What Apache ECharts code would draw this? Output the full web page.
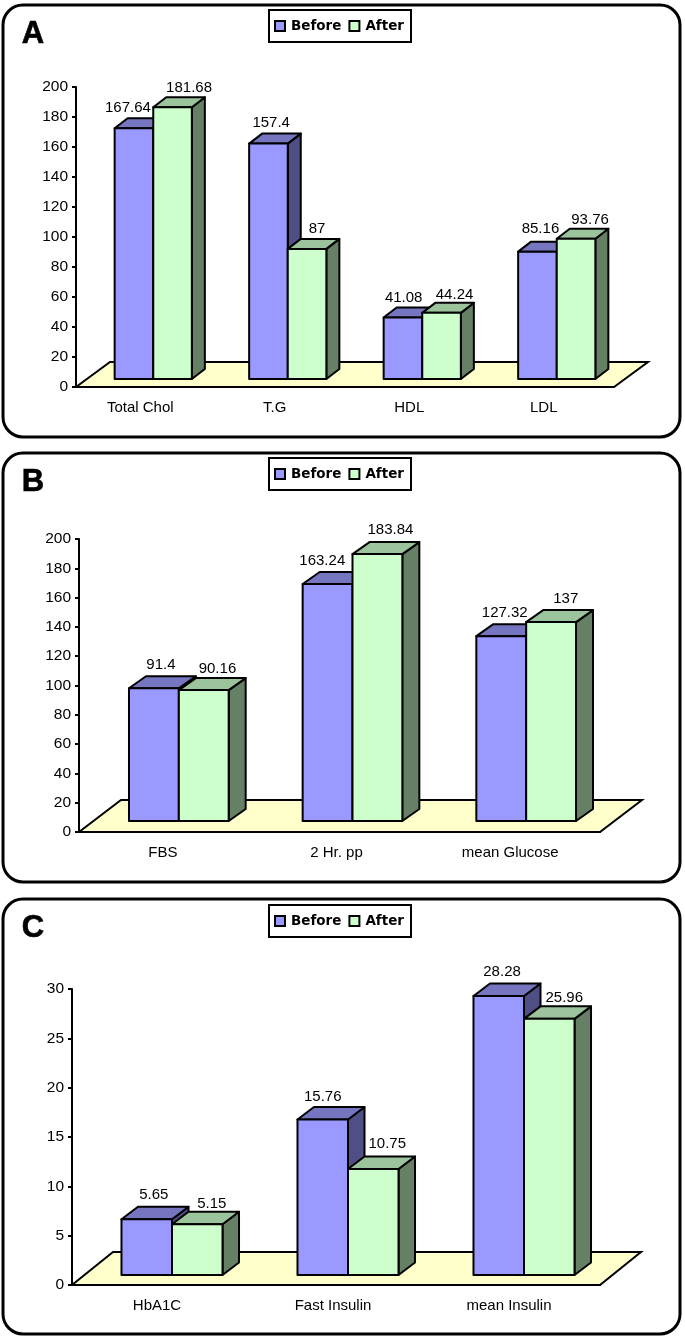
<!DOCTYPE html>
<html>
<head>
<meta charset="utf-8">
<title>Before / After</title>
<script src="https://cdn.jsdelivr.net/npm/echarts@6/dist/echarts.min.js"></script>
<style>
  html, body { margin: 0; padding: 0; background: #fff; }
  #chart { width: 685px; height: 1337px; }
</style>
</head>
<body>
<div id="chart"></div>
<script>
const categoriesA = ["Total Chol", "T.G", "HDL", "LDL"];
const beforeA = [167.64, 157.4, 41.08, 85.16];
const afterA = [181.68, 87, 44.24, 93.76];

const categoriesB = ["FBS", "2 Hr. pp", "mean Glucose"];
const beforeB = [91.4, 163.24, 127.32];
const afterB = [90.16, 183.84, 137];

const categoriesC = ["HbA1C", "Fast Insulin", "mean Insulin"];
const beforeC = [5.65, 15.76, 28.28];
const afterC = [5.15, 10.75, 25.96];

const panels = [
  {
    letter: "A", box: [3, 5, 677, 432], legendTop: 10,
    categories: categoriesA, before: beforeA, after: afterA,
    grid: { left: 76, top: 87, width: 538, height: 300 },
    max: 200, interval: 20, barScale: 0.997,
    shift: [10, -8], depth: [13, -10], floor: [34, -25],
    beforeNudge: [[-6, -21.5], [2.7, -21.3], [0.7, -21], [3, -24]],
    afterNudge: [[16.5, -20], [10, -21.5], [13, -19], [14, -20]]
  },
  {
    letter: "B", box: [3, 453, 677, 429], legendTop: 458,
    categories: categoriesB, before: beforeB, after: afterB,
    grid: { left: 79, top: 539, width: 521, height: 293 },
    max: 200, interval: 20, barScale: 0.991,
    shift: [13, -11], depth: [17, -12], floor: [42, -32],
    beforeNudge: [[7, -24.7], [-5.3, -24], [3.5, -24.3]],
    afterNudge: [[13.7, -22], [13, -25], [14.7, -24]]
  },
  {
    letter: "C", box: [3, 899, 677, 435], legendTop: 905,
    categories: categoriesC, before: beforeC, after: afterC,
    grid: { left: 72, top: 989, width: 528, height: 296 },
    max: 30, interval: 5, barScale: 1,
    shift: [12, -10], depth: [16.5, -12.5], floor: [41, -33],
    beforeNudge: [[7, -25], [0, -24], [3.3, -25]],
    afterNudge: [[14.5, -21], [14, -26], [15, -22.5]]
  }
];

const BEFORE = { front: "#9999ff", top: "#7575c0", side: "#4f4f85" };
const AFTER = { front: "#ccffcc", top: "#9cc49c", side: "#668066" };
const FONT = '"Liberation Sans", Arial, sans-serif';
const BAR_RATIO = 0.287;

function renderFloor(panel) {
  return function (params, api) {
    const a = api.coord([0, 0]);
    const band = api.size([1, 0])[0];
    const left = a[0] - band / 2;
    const right = left + band * panel.categories.length;
    const y = a[1];
    const [dx, dy] = panel.floor;
    return {
      type: "polygon",
      shape: { points: [[left, y], [left + dx, y + dy], [right + dx, y + dy], [right, y]] },
      style: { fill: "#ffffcc", stroke: "#000", lineWidth: 2 }
    };
  };
}

// one box per data item: front, top and side faces, and its value above
function renderBar(panel, colors, side, nudges) {
  return function (params, api) {
    const i = api.value(0);
    const base = api.coord([i, 0]);
    const top = api.coord([i, api.value(1)]);
    const w = api.size([1, 0])[0] * BAR_RATIO;
    const x0 = base[0] + panel.shift[0] + (side < 0 ? -w : 0);
    const x1 = x0 + w;
    const yb = base[1] + panel.shift[1];
    // the boxes stand further back than the axis, so they come out a touch shorter
    const yt = yb - (base[1] - top[1]) * panel.barScale;
    const [dx, dy] = panel.depth;
    const edge = { stroke: "#000", lineWidth: 2, lineJoin: "round" };
    return {
      type: "group",
      children: [
        {
          type: "polygon",
          shape: { points: [[x1, yb], [x1 + dx, yb + dy], [x1 + dx, yt + dy], [x1, yt]] },
          style: { fill: colors.side, ...edge }
        },
        {
          type: "polygon",
          shape: { points: [[x0, yt], [x0 + dx, yt + dy], [x1 + dx, yt + dy], [x1, yt]] },
          style: { fill: colors.top, ...edge }
        },
        {
          type: "rect",
          shape: { x: x0, y: yt, width: w, height: yb - yt },
          style: { fill: colors.front, ...edge }
        },
        {
          type: "text",
          z2: 50,
          x: (x0 + x1) / 2 + nudges[i][0],
          y: yt + nudges[i][1] + 1,
          style: {
            text: String(api.value(1)),
            font: "15px " + FONT,
            fill: "#000",
            align: "center",
            verticalAlign: "middle"
          }
        }
      ]
    };
  };
}

const graphic = [];
const legend = [];
const grid = [];
const xAxis = [];
const yAxis = [];
const series = [];

panels.forEach((panel, k) => {
  graphic.push({
    type: "rect", z: -10,
    shape: { x: panel.box[0], y: panel.box[1], width: panel.box[2], height: panel.box[3], r: 20 },
    style: { fill: "#fff", stroke: "#000", lineWidth: 3 }
  });
  graphic.push({
    type: "text", z: 10, x: 33, y: panel.box[1] + 29,
    style: {
      text: panel.letter, font: "bold 31px " + FONT, fill: "#000",
      stroke: "#000", lineWidth: 0.6,
      align: "center", verticalAlign: "middle"
    }
  });

  legend.push({
    left: 269, top: panel.legendTop, orient: "horizontal",
    backgroundColor: "#fff", borderColor: "#000", borderWidth: 2,
    padding: [9, 7, 9, 5], itemGap: 7, itemWidth: 10, itemHeight: 10,
    selectedMode: false,
    textStyle: { fontFamily: '"DejaVu Sans"', fontWeight: "bold", fontSize: 13.5, color: "#000", padding: [0, 0, 0, 1] },
    data: [
      { name: "Before", icon: "rect", itemStyle: { color: BEFORE.front, borderColor: "#000", borderWidth: 2 } },
      { name: "After", icon: "rect", itemStyle: { color: AFTER.front, borderColor: "#000", borderWidth: 2 } }
    ]
  });

  grid.push(panel.grid);
  xAxis.push({
    type: "category", gridIndex: k, data: panel.categories,
    axisLine: { lineStyle: { color: "#000", width: 2 } },
    axisTick: { length: 4, lineStyle: { color: "#000", width: 2 } },
    axisLabel: { color: "#000", fontFamily: FONT, fontSize: 15, margin: 13, padding: [0, 6, 0, 0] }
  });
  yAxis.push({
    type: "value", gridIndex: k, min: 0, max: panel.max, interval: panel.interval,
    splitLine: { show: false },
    axisLine: { show: true, lineStyle: { color: "#000", width: 2 } },
    axisTick: { show: true, length: 4, lineStyle: { color: "#000", width: 2 } },
    axisLabel: { color: "#000", fontFamily: FONT, fontSize: 15.5, margin: 8, padding: [4, 0, 0, 0] }
  });

  series.push({
    type: "custom", name: "floor" + panel.letter, xAxisIndex: k, yAxisIndex: k, z: 1,
    silent: true, renderItem: renderFloor(panel), data: [[0, 0]]
  });
  series.push({
    type: "custom", name: "Before", xAxisIndex: k, yAxisIndex: k, z: 3,
    itemStyle: { color: BEFORE.front },
    renderItem: renderBar(panel, BEFORE, -1, panel.beforeNudge),
    data: panel.before.map((v, i) => [i, v])
  });
  series.push({
    type: "custom", name: "After", xAxisIndex: k, yAxisIndex: k, z: 4,
    itemStyle: { color: AFTER.front },
    renderItem: renderBar(panel, AFTER, 1, panel.afterNudge),
    data: panel.after.map((v, i) => [i, v])
  });
});

const chart = echarts.init(document.getElementById("chart"), null, { renderer: "canvas" });
chart.setOption({
  animation: false,
  backgroundColor: "#fff",
  graphic: graphic,
  legend: legend,
  grid: grid,
  xAxis: xAxis,
  yAxis: yAxis,
  series: series
});
</script>
</body>
</html>
